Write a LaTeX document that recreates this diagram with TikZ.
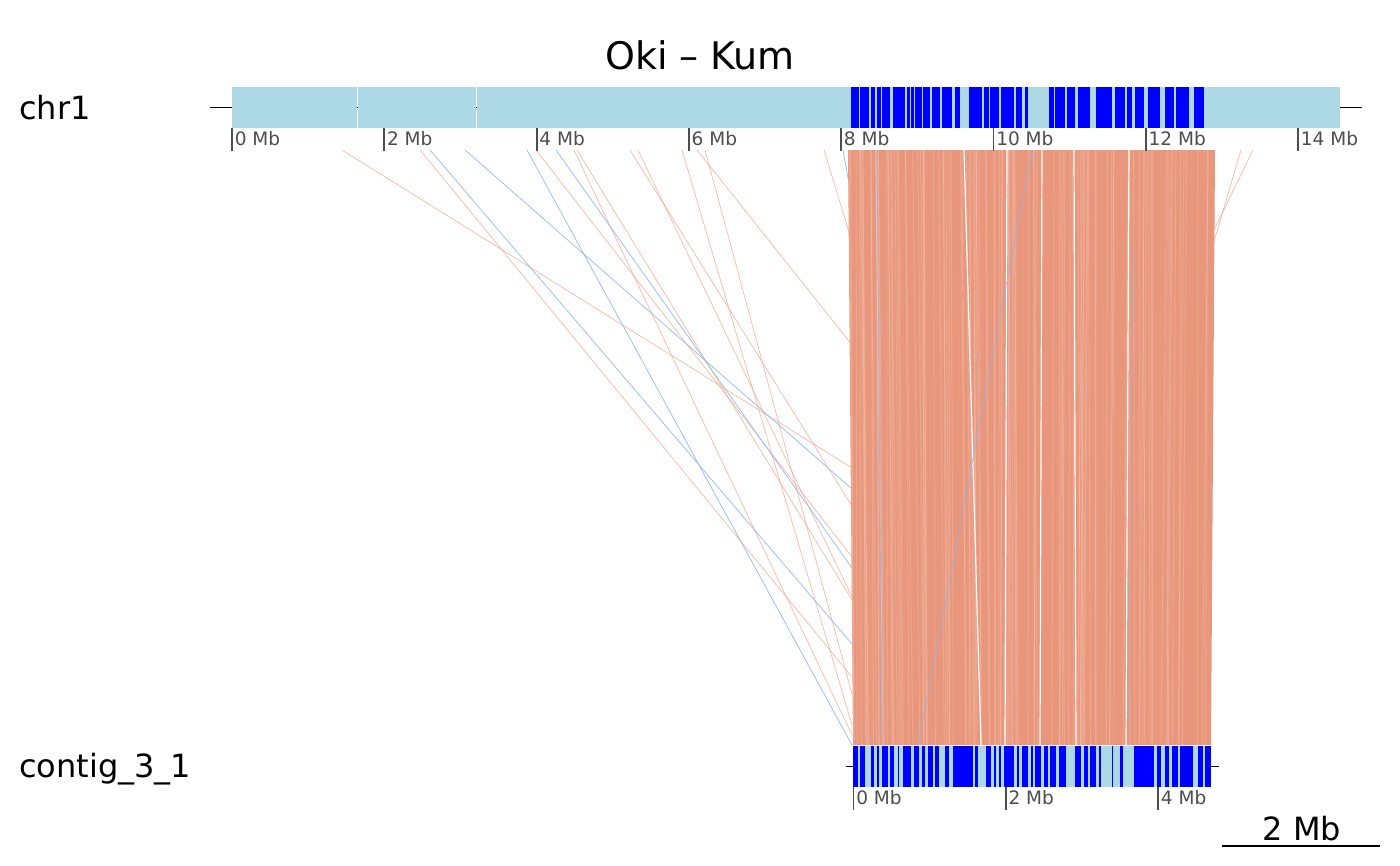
\documentclass[tikz,border=0pt]{standalone}
\usepackage{fontspec}
\setmainfont{DejaVu Sans}
\definecolor{lb}{HTML}{ADD8E6}
\definecolor{salm}{HTML}{E9977C}
\definecolor{sline}{HTML}{F2A58C}
\definecolor{bline}{HTML}{8CB4F0}
\definecolor{tickc}{HTML}{4D4D4D}
\begin{document}
\begin{tikzpicture}[x=0.75pt,y=-0.75pt,
  synS/.style={draw=sline, line width=0.55pt, opacity=0.75},
  synB/.style={draw=bline, line width=0.55pt, opacity=0.9},
  ticklab/.style={anchor=base west, inner sep=0pt, text=tickc, font=\fontsize{13.9}{15}\selectfont},
  tickline/.style={draw=tickc, line width=1.4pt},
  seqlab/.style={anchor=base west, inner sep=0pt, font=\fontsize{24}{26}\selectfont},
  axisline/.style={draw=black, line width=1.4pt}]
\path[use as bounding box] (0,0) rectangle (1400,865);

% title
\node[anchor=base, inner sep=0pt, font=\fontsize{28.5}{30}\selectfont] (title) at (700,69) {Oki – Kum};

% sequence labels
\node[seqlab] (lchr) at (19,119) {chr1};
\node[seqlab] (lcontig) at (19,777) {contig\_3\_1};

% synteny lines outside the main block
\foreach \x/\y in {342/468, 420/677, 536/557, 574/735, 577/600, 630/506, 638/597, 682/725, 697/345, 705/694, 824/242}
  \draw[synS] (\x,150) -- (852,\y);
\foreach \x/\y in {430/644, 465/489, 527/745, 556/568, 843/200}
  \draw[synB] (\x,150) -- (852,\y);
\draw[synS] (1241,150) -- (1213,245);
\draw[synS] (1253,150) -- (1213,232);

% main syntenic block
\fill[salm] (848,150) -- (1215,150) -- (1211,745) -- (853,745) -- cycle;
\pgfmathsetseed{7}
\foreach \i in {1,...,110}{
  \pgfmathsetmacro{\tt}{849+rnd*364}
  \pgfmathsetmacro{\bb}{min(1210,max(854,853+(\tt-848)*0.975+(rnd-0.5)*8))}
  \draw[white, opacity=0.16, line width=0.7pt] (\tt,150) -- (\bb,745);
}
\foreach \a/\b in {964/981, 1007/1005, 1042/1040, 1074/1076, 1129/1126}
  \draw[white, line width=0.9pt] (\a,150) -- (\b,745);
\draw[synB, opacity=0.8] (877,150) -- (882,745);
\draw[synB, opacity=0.8] (1032,150) -- (918,745);
\draw[synB, opacity=0.5] (1133,250) -- (1128,745);

% chr1 bar
\draw[axisline] (210,107.5) -- (1362,107.5);
\foreach \a/\b in {232/357, 358/476, 477/1340}
  \fill[lb] (\a,87) rectangle (\b,128);
\foreach \a/\b in {851/858.3, 860.3/869, 871.7/874.3, 877/881, 882.7/890, 893.3/905, 907/909.3, 911/913.3, 915/921.7, 923.7/930, 932.3/940, 942.3/951.7, 955/960, 969/981.7, 984.3/988.3, 990.3/999, 1001/1013.3, 1016.7/1021.7, 1025/1027.7, 1049/1053.3, 1055.7/1065, 1067.7/1075, 1078.3/1090, 1096.7/1111.7, 1115/1125, 1127.7/1131.7, 1135.7/1143.3, 1148.3/1160, 1165/1173.3, 1176.7/1188.3, 1194.3/1203.3}
  \fill[blue] (\a-0.4,87) rectangle (\b+0.4,128);
\foreach \k in {0,...,7}{
  \pgfmathsetmacro{\xx}{232+\k*152.3}
  \pgfmathtruncatemacro{\mb}{2*\k}
  \draw[tickline] (\xx,128) -- (\xx,151);
  \node[ticklab] (t\k) at (\xx+2.5,145) {\mb{} Mb};
}

% contig bar
\draw[axisline] (846,766.5) -- (1219,766.5);
\fill[blue] (853,746) rectangle (1211,787);
\foreach \a/\b in {858/859.7, 865.3/870.7, 874.7/876.3, 879.7/881.3, 888/889.7, 894.7/897, 899.7/902, 911.3/913.3, 919.7/921.3, 925.3/927.3, 933/934.7, 939.7/944.7, 949.7/952, 973/974.7, 978/985.3, 991.3/993, 996.3/998, 1001.3/1003, 1014.7/1016.3, 1019.7/1021.3, 1028/1030, 1033/1034.7, 1041.3/1043, 1048/1049.7, 1056.3/1058, 1066.3/1074.7, 1081.3/1083, 1088/1089.7, 1096.3/1098, 1101.3/1111.3, 1113/1119.7, 1123/1133, 1154.7/1156.3, 1161.3/1164, 1169.7/1171.3, 1178/1179.7, 1193/1197.3, 1203/1204.7}
  \fill[lb] (\a-0.5,746) rectangle (\b+0.5,787);
\foreach \k in {0,...,2}{
  \pgfmathsetmacro{\xx}{853.5+\k*152.3}
  \pgfmathtruncatemacro{\mb}{2*\k}
  \draw[tickline] (\xx,787) -- (\xx,810);
  \node[ticklab] (c\k) at (\xx+2.5,804) {\mb{} Mb};
}

% scale bar
\node[anchor=base, inner sep=0pt, font=\fontsize{24}{26}\selectfont] (sclab) at (1302,840) {2 Mb};
\coordinate (sb1) at (1222,846);
\coordinate (sb2) at (1380,846);
\draw[black, line width=1.4pt] (sb1) -- (sb2);
\end{tikzpicture}
\end{document}
